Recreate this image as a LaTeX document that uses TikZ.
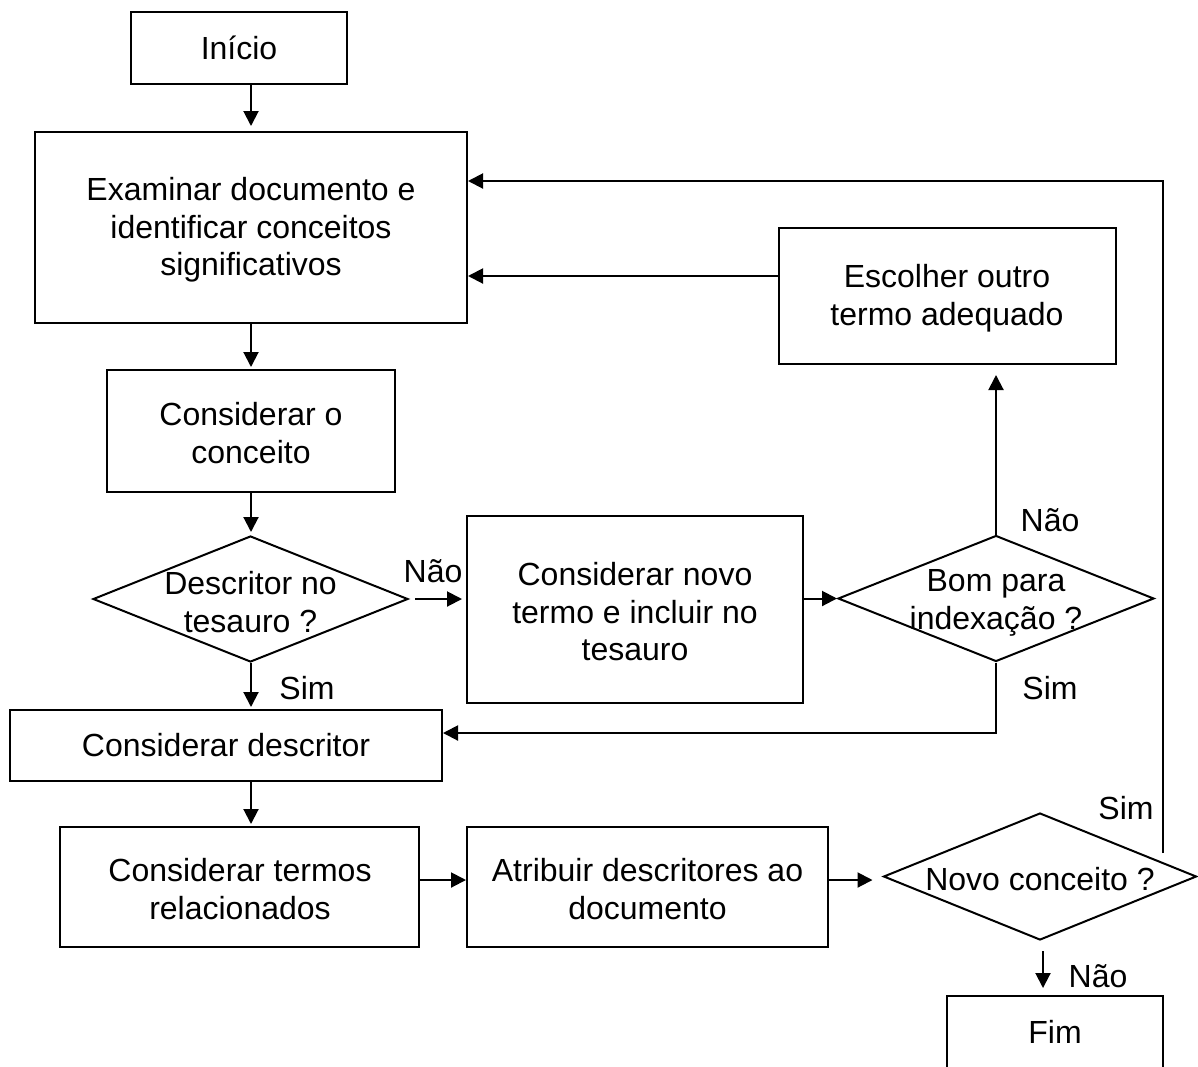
\documentclass[tikz,border=0pt]{standalone}
\usepackage{fontspec}
\setmainfont{Liberation Sans}
\usetikzlibrary{shapes.geometric,arrows.meta}
\begin{document}
\begin{tikzpicture}[x=1pt,y=-1pt,
  every node/.style={font=\fontsize{32}{37.5}\selectfont},
  procbox/.style={draw,line width=2pt,rectangle,inner sep=0pt,align=center},
  decision/.style={draw,line width=2pt,diamond,inner sep=0pt},
  lbl/.style={inner sep=0pt},
  arr/.style={line width=2pt,-{Triangle[length=15pt,width=15pt]}},
  conn/.style={line width=2pt}]
\useasboundingbox (0,0) rectangle (1198,1066);
\begin{scope}
\clip (0,0) rectangle (1198,1066);

% process boxes
\node[procbox,minimum width=216,minimum height=72] (start) at (239,48) {Início};
\node[procbox,minimum width=432,minimum height=191] (exam) at (251,227.5) {};
\node[lbl,align=center] at (251,230) {Examinar documento e\\identificar conceitos\\significativos};
\node[procbox,minimum width=288,minimum height=122] (conc) at (251,431) {};
\node[lbl,align=center] at (251,433) {Considerar o\\conceito};
\node[procbox,minimum width=432,minimum height=71] (desc) at (226,745.5) {Considerar descritor};
\node[procbox,minimum width=359,minimum height=120] (rel) at (239.5,887) {};
\node[lbl,align=center] at (240,889) {Considerar termos\\relacionados};
\node[procbox,minimum width=361,minimum height=120] (atrib) at (647.5,887) {};
\node[lbl,align=center] at (647.5,889) {Atribuir descritores ao\\documento};
\node[procbox,minimum width=336,minimum height=187] (novo) at (635,609.5) {};
\node[lbl,align=center] at (635,612) {Considerar novo\\termo e incluir no\\tesauro};
\node[procbox,minimum width=337,minimum height=136] (esc) at (947,296) {};
\node[lbl,align=center] at (947,298) {Escolher outro\\termo adequado};
\node[procbox,minimum width=216,minimum height=120] (fim) at (1055,1056) {};
\node[lbl] at (1055,1032) {Fim};

% decisions
\node[decision,minimum width=315,minimum height=126] (d1) at (250.5,599) {};
\node[lbl,align=center] at (250.5,602) {Descritor no\\tesauro ?};
\node[decision,minimum width=316,minimum height=126] (d2) at (996,598.5) {};
\node[lbl,align=center] at (996,603) {Bom para\\indexação ?};
\node[decision,minimum width=313,minimum height=127] (d3) at (1040,876.5) {};
\node[lbl] at (1040,879) {Novo conceito ?};

% main flow
\draw[arr,shorten >=5pt] (start.south -| exam.north) -- (exam.north);
\draw[arr,shorten >=2pt] (exam.south) -- (conc.north);
\draw[arr,shorten >=3pt] (conc.south) -- (d1.north -| conc.south);
\draw[arr,shorten >=2pt] (d1.south -| conc.south) -- (desc.north -| conc.south);
\draw[arr,shorten >=2pt] (desc.south -| conc.south) -- (rel.north -| conc.south);
\draw[arr] (rel.east |- 0,880) -- (atrib.west |- 0,880);
\draw[arr,shorten >=10pt] (atrib.east |- 0,880) -- (d3.west |- 0,880);
\draw[arr,shorten <=10pt,shorten >=7pt] (d3.south -| 1043,0) -- (fim.north -| 1043,0);

% branch: new term
\draw[arr,shorten <=6pt,shorten >=4pt] (d1.east) -- (novo.west |- d1.east);
\draw[arr] (novo.east |- d2.west) -- (d2.west);
\draw[arr,shorten >=10pt] (d2.north) -- (esc.south -| d2.north);
\draw[arr] (esc.west |- 0,276) -- (exam.east |- 0,276);
\draw[arr] (d2.south) |- (desc.east |- 0,733);

% loop back for a new concept
\coordinate (loopstart) at (1163,853);
\draw[arr] (loopstart) |- (exam.east |- 0,181);

% branch labels
\node[lbl] at (433,571) {Não};
\node[lbl] at (307,688) {Sim};
\node[lbl] at (1050,520) {Não};
\node[lbl] at (1050,688) {Sim};
\node[lbl] at (1126,808) {Sim};
\node[lbl] at (1098,976) {Não};
\end{scope}
\end{tikzpicture}
\end{document}
